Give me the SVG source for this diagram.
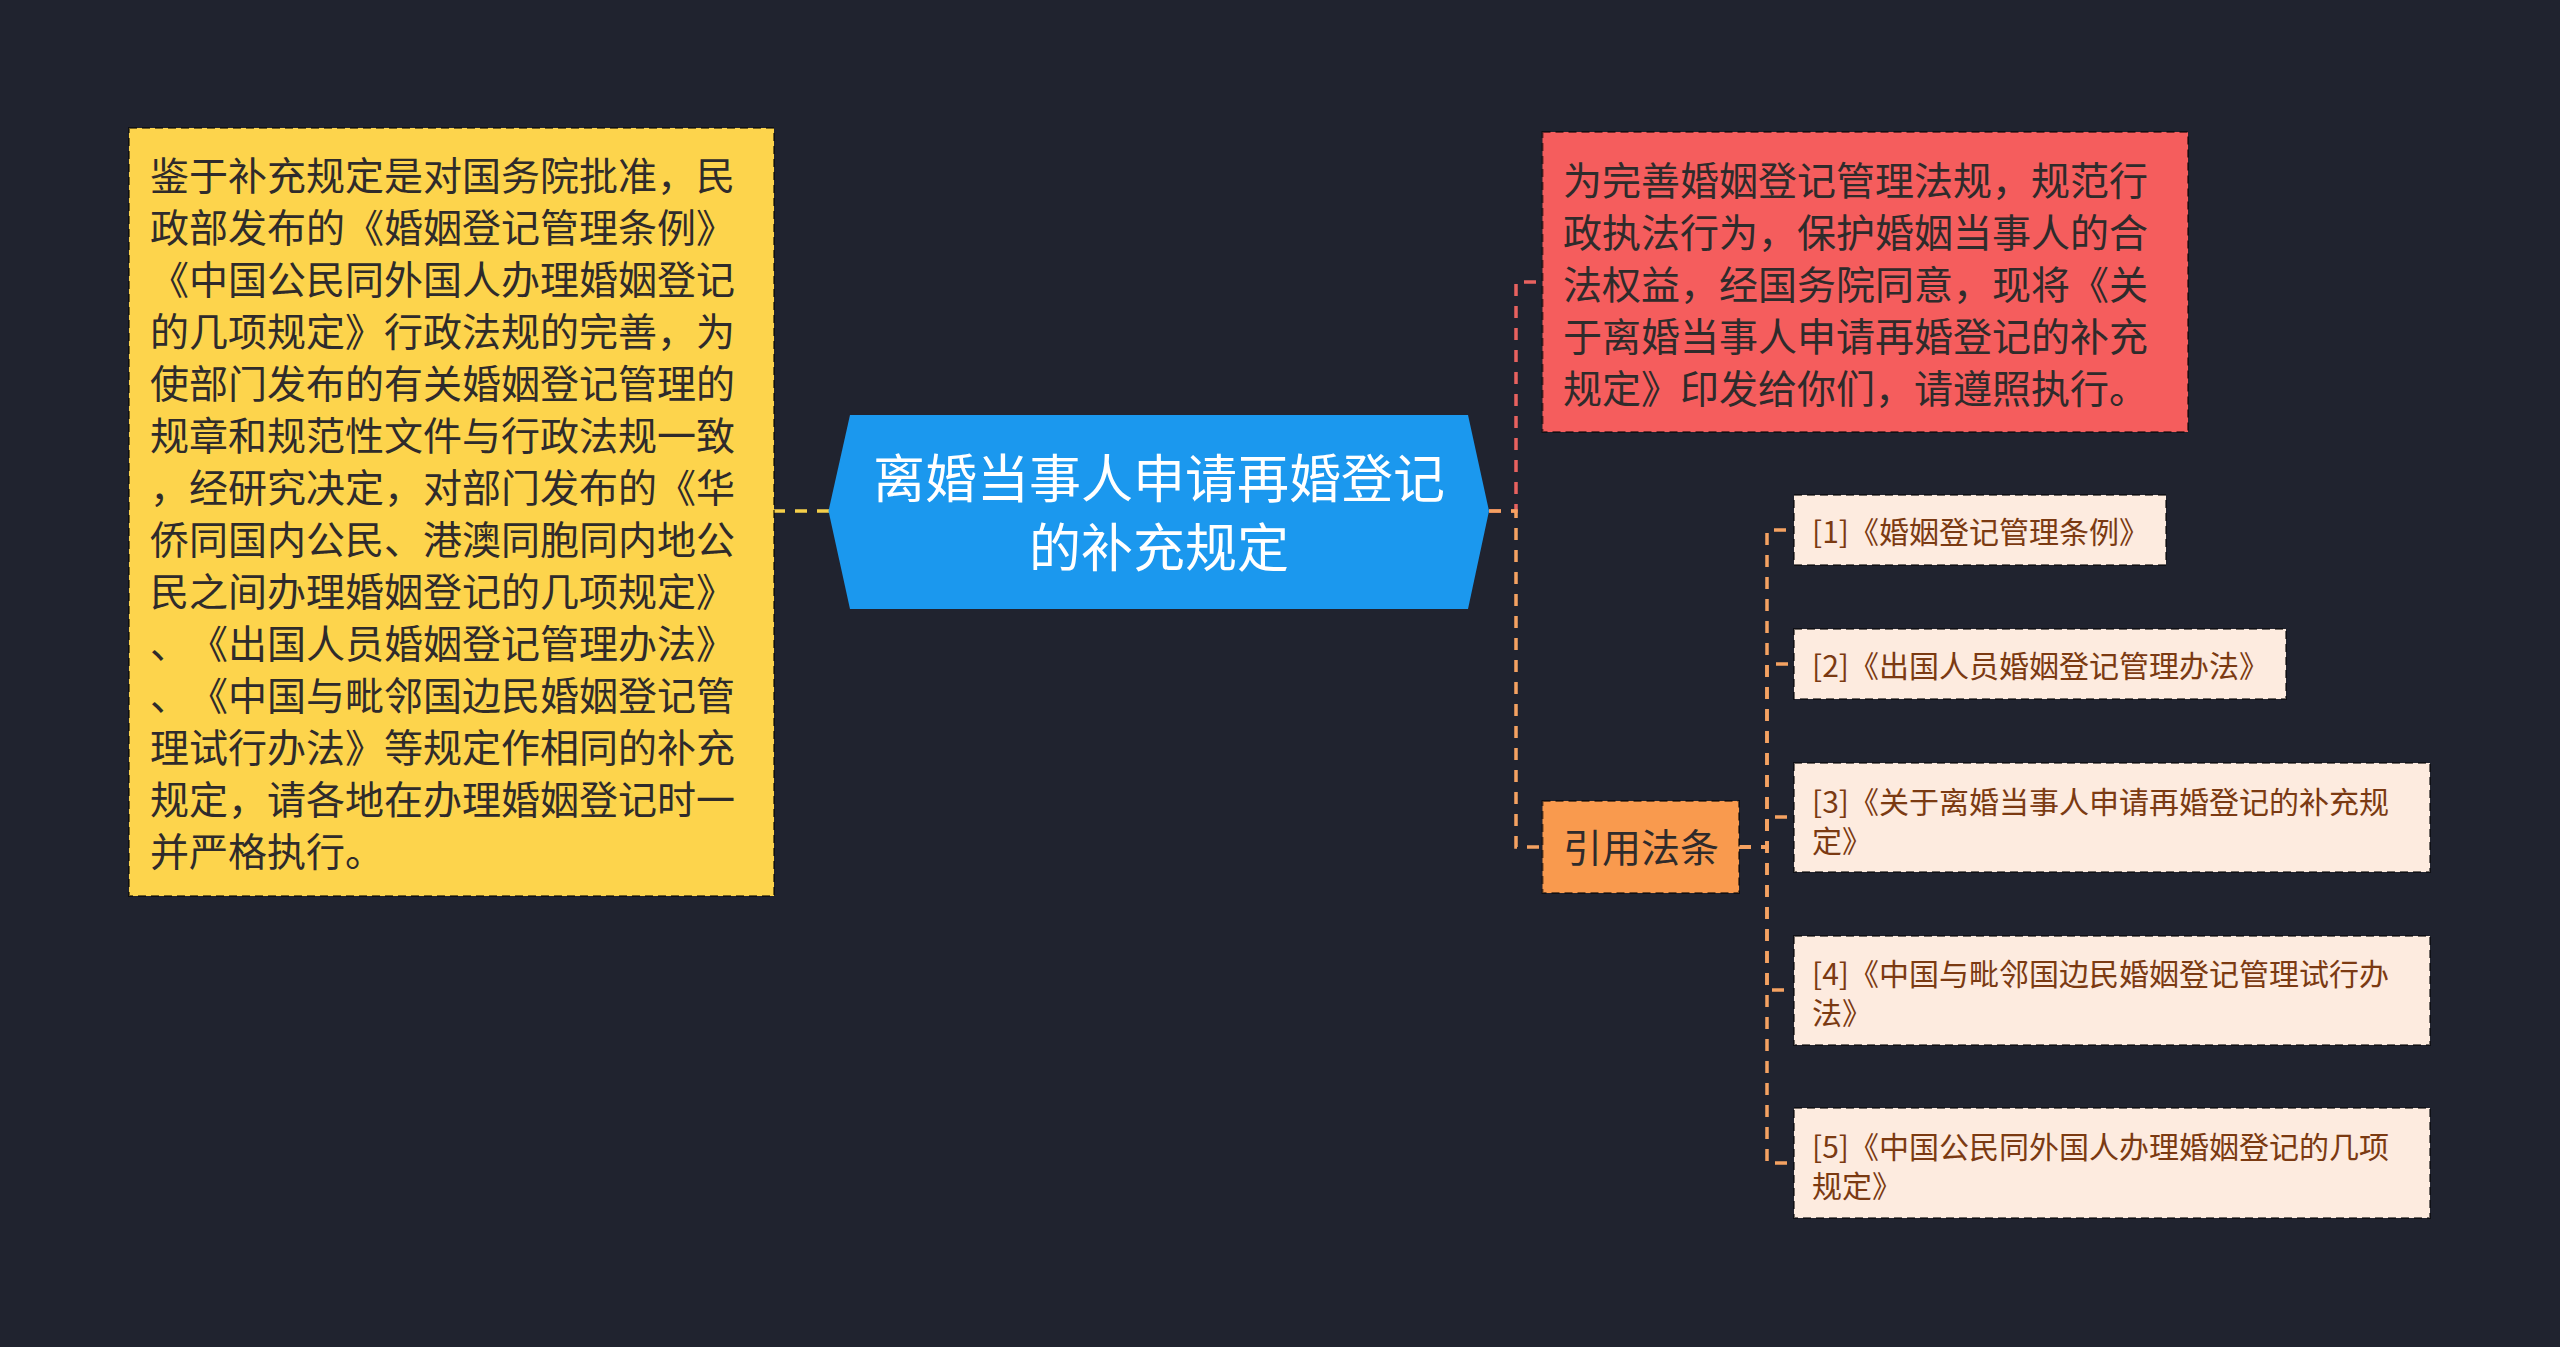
<svg xmlns="http://www.w3.org/2000/svg" width="2560" height="1347" viewBox="0 0 2560 1347">
<style>
  text { font-family: "Noto Sans CJK SC", "Noto Sans", sans-serif; text-spacing-trim: space-all; font-feature-settings: "halt" 0, "chws" 0; }
  .conn { fill: none; stroke-width: 3.5; stroke-dasharray: 12 10; }
  .box { stroke: rgba(0,0,0,0.55); stroke-width: 2; stroke-dasharray: 8 5; }
  .dark { fill: #2f2b2b; font-size: 39px; }
  .brown { fill: #7b3a12; font-size: 30px; }
</style>
<rect x="0" y="0" width="2560" height="1347" fill="#20232f"/>
<g id="connectors">
  <path class="conn" stroke="#f5cf4a" d="M829,511 H774"/>
  <path class="conn" stroke="#e8625f" d="M1489,511 H1516 V282 H1542"/>
  <path class="conn" stroke="#f5a262" d="M1489,511 H1516 V847 H1542"/>
  <path class="conn" stroke="#f5a262" d="M1739,847 H1767 V530 H1794"/>
  <path class="conn" stroke="#f5a262" d="M1739,847 H1767 V664 H1794"/>
  <path class="conn" stroke="#f5a262" d="M1739,847 H1767 V817 H1794"/>
  <path class="conn" stroke="#f5a262" d="M1739,847 H1767 V990 H1794"/>
  <path class="conn" stroke="#f5a262" d="M1739,847 H1767 V1163 H1794"/>
</g>
<g id="root">
  <polygon points="828.5,511 850,415 1468,415 1489,511 1468,609 850,609" fill="#1b98ee"/>
  <text x="1159" y="498" font-size="52" fill="#ffffff" text-anchor="middle">离婚当事人申请再婚登记</text>
  <text x="1159" y="567" font-size="52" fill="#ffffff" text-anchor="middle">的补充规定</text>
</g>
<g id="left-note">
  <rect class="box" x="129" y="128" width="645" height="768" fill="#fdd44c"/>
  <text class="dark" x="150" y="190">鉴于补充规定是对国务院批准，民</text>
  <text class="dark" x="150" y="242">政部发布的《婚姻登记管理条例》</text>
  <text class="dark" x="150" y="294">《中国公民同外国人办理婚姻登记</text>
  <text class="dark" x="150" y="346">的几项规定》行政法规的完善，为</text>
  <text class="dark" x="150" y="398">使部门发布的有关婚姻登记管理的</text>
  <text class="dark" x="150" y="450">规章和规范性文件与行政法规一致</text>
  <text class="dark" x="150" y="502">，经研究决定，对部门发布的《华</text>
  <text class="dark" x="150" y="554">侨同国内公民、港澳同胞同内地公</text>
  <text class="dark" x="150" y="606">民之间办理婚姻登记的几项规定》</text>
  <text class="dark" x="150" y="658">、《出国人员婚姻登记管理办法》</text>
  <text class="dark" x="150" y="710">、《中国与毗邻国边民婚姻登记管</text>
  <text class="dark" x="150" y="762">理试行办法》等规定作相同的补充</text>
  <text class="dark" x="150" y="814">规定，请各地在办理婚姻登记时一</text>
  <text class="dark" x="150" y="866">并严格执行。</text>
</g>
<g id="red-note">
  <rect class="box" x="1542.5" y="132" width="645.5" height="300" fill="#f55d5d"/>
  <text class="dark" x="1563" y="195">为完善婚姻登记管理法规，规范行</text>
  <text class="dark" x="1563" y="247">政执法行为，保护婚姻当事人的合</text>
  <text class="dark" x="1563" y="299">法权益，经国务院同意，现将《关</text>
  <text class="dark" x="1563" y="351">于离婚当事人申请再婚登记的补充</text>
  <text class="dark" x="1563" y="403">规定》印发给你们，请遵照执行。</text>
</g>
<g id="cite">
  <rect class="box" x="1542.5" y="801" width="196.5" height="92" fill="#f99a4e"/>
  <text class="dark" x="1641" y="862" text-anchor="middle">引用法条</text>
</g>
<g id="ref1">
  <rect class="box" x="1794" y="495" width="372" height="70" fill="#fdebdf"/>
  <text class="brown" x="1812" y="543">[1]《婚姻登记管理条例》</text>
</g>
<g id="ref2">
  <rect class="box" x="1794" y="629" width="492" height="70" fill="#fdebdf"/>
  <text class="brown" x="1812" y="677">[2]《出国人员婚姻登记管理办法》</text>
</g>
<g id="ref3">
  <rect class="box" x="1794" y="763" width="636" height="109" fill="#fdebdf"/>
  <text class="brown" x="1812" y="813">[3]《关于离婚当事人申请再婚登记的补充规</text>
  <text class="brown" x="1812" y="852">定》</text>
</g>
<g id="ref4">
  <rect class="box" x="1794" y="936" width="636" height="109" fill="#fdebdf"/>
  <text class="brown" x="1812" y="985">[4]《中国与毗邻国边民婚姻登记管理试行办</text>
  <text class="brown" x="1812" y="1024">法》</text>
</g>
<g id="ref5">
  <rect class="box" x="1794" y="1108" width="636" height="110" fill="#fdebdf"/>
  <text class="brown" x="1812" y="1158">[5]《中国公民同外国人办理婚姻登记的几项</text>
  <text class="brown" x="1812" y="1197">规定》</text>
</g>
</svg>
